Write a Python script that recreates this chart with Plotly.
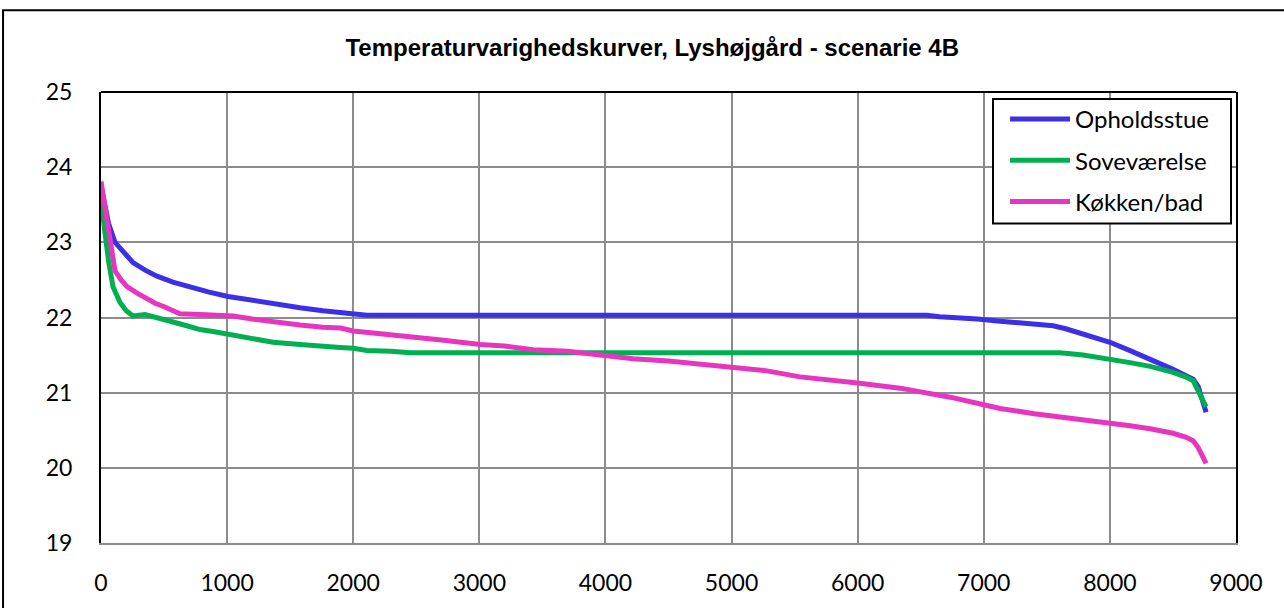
import plotly.graph_objects as go

# Duration curves (hours of the year sorted by temperature)
hours_stue = [0, 30, 60, 111, 180, 254, 350, 444, 570, 706, 850, 1007, 1180, 1364, 1578,
              1760, 1975, 2108, 3000, 4000, 5000, 6000, 6550, 6650, 6812, 6950, 7130, 7260,
              7391, 7550, 7650, 7740, 7870, 8001, 8160, 8319, 8420, 8501, 8600, 8660, 8700, 8763]
temp_stue = [23.75, 23.5, 23.25, 23.0, 22.88, 22.73, 22.63, 22.55, 22.47, 22.40, 22.34, 22.28,
             22.23, 22.18, 22.13, 22.09, 22.06, 22.03, 22.03, 22.03, 22.03, 22.03, 22.03, 22.01,
             22.0, 21.98, 21.95, 21.93, 21.91, 21.89, 21.85, 21.80, 21.74, 21.67, 21.56, 21.45,
             21.38, 21.31, 21.23, 21.18, 21.08, 20.74]

hours_sove = [0, 30, 60, 95, 151, 200, 254, 349, 450, 571, 680, 785, 900, 1007, 1180, 1364,
              1578, 1760, 1895, 2000, 2108, 2300, 2450, 3500, 4500, 5500, 6500, 7605, 7787,
              8001, 8160, 8319, 8420, 8501, 8600, 8660, 8763]
temp_sove = [23.55, 23.1, 22.75, 22.41, 22.20, 22.09, 22.02, 22.04, 22.0, 21.94, 21.89, 21.84,
             21.81, 21.78, 21.72, 21.67, 21.64, 21.61, 21.60, 21.59, 21.56, 21.55, 21.53, 21.53,
             21.53, 21.53, 21.53, 21.53, 21.50, 21.45, 21.40, 21.35, 21.31, 21.27, 21.21, 21.16,
             20.81]

hours_bad = [0, 56, 111, 160, 206, 290, 365, 430, 492, 560, 626, 785, 900, 1047, 1200, 1364,
             1578, 1760, 1900, 2000, 2200, 2371, 2700, 3006, 3200, 3426, 3700, 3957, 4219, 4500,
             4750, 5000, 5281, 5543, 5800, 6000, 6336, 6733, 7000, 7130, 7400, 7660, 8001, 8160,
             8319, 8501, 8600, 8660, 8700, 8763]
temp_bad = [23.81, 23.17, 22.62, 22.50, 22.41, 22.32, 22.24, 22.19, 22.15, 22.09, 22.05, 22.04,
            22.03, 22.02, 21.98, 21.94, 21.90, 21.87, 21.86, 21.82, 21.79, 21.75, 21.70, 21.64,
            21.62, 21.57, 21.55, 21.50, 21.45, 21.42, 21.38, 21.34, 21.29, 21.21, 21.17, 21.13,
            21.06, 20.94, 20.84, 20.79, 20.72, 20.67, 20.60, 20.56, 20.52, 20.46, 20.41, 20.36,
            20.27, 20.06]

series = [
    ("Opholdsstue", hours_stue, temp_stue, "#3B30E8"),
    ("Soveværelse", hours_sove, temp_sove, "#00B050"),
    ("Køkken/bad", hours_bad, temp_bad, "#E835C0"),
]

x_ticks = list(range(0, 9001, 1000))
y_ticks = [19, 20, 21, 22, 23, 24, 25]

fig = go.Figure()
for i, (name, xs, ys, col) in enumerate(series):
    fig.add_trace(go.Scatter(x=xs, y=ys, name=name, mode="lines", legendgroup=str(i),
                             line=dict(color=col, width=5)))

tick_font = dict(family="Lato, Carlito, sans-serif", size=23, color="#000")

fig.update_layout(
    width=1284, height=608,
    margin=dict(l=101, r=48, t=92, b=63),
    paper_bgcolor="white", plot_bgcolor="white",
    title=dict(text="<b>Temperaturvarighedskurver, Lyshøjgård - scenarie 4B</b>",
               font=dict(family="Liberation Sans Narrow, Arial Narrow, Liberation Sans, sans-serif",
                         size=24, color="#000"),
               x=0.508, xref="container", xanchor="center",
               y=1 - 48 / 608, yref="container", yanchor="middle"),
    xaxis=dict(range=[0, 9000], tickvals=x_ticks, showgrid=True, gridcolor="#8C8C8C",
               gridwidth=2, zeroline=False, showline=True, linecolor="#8C8C8C", linewidth=2,
               ticks="", tickfont=tick_font, ticklabelstandoff=18),
    yaxis=dict(range=[19, 25], tickvals=y_ticks, showgrid=True, gridcolor="#8C8C8C",
               gridwidth=2, zeroline=False, showline=True, linecolor="#000", linewidth=2,
               mirror=True, ticks="", tickfont=tick_font, ticklabelstandoff=22),
    legend=dict(x=0.7965, y=0.989, xanchor="left", yanchor="top",
                borderwidth=0, bgcolor="rgba(0,0,0,0)",
                font=dict(family="Lato, Carlito, sans-serif", size=24, color="#000"),
                itemwidth=60, tracegroupgap=7),
    showlegend=True,
    shapes=[
        # top edge of the plot area
        dict(type="line", xref="paper", yref="paper", x0=0, x1=1, y0=1, y1=1,
             line=dict(color="#000", width=2)),
        # legend box
        dict(type="rect", xref="paper", yref="paper", x0=0.7859, x1=0.9956, y0=0.7086, y1=0.9845,
             line=dict(color="#000", width=2), fillcolor="white", layer="above"),
        # outer chart frame
        dict(type="rect", xref="paper", yref="paper", x0=-0.0863, x1=1.06, y0=-0.2, y1=1.181,
             line=dict(color="#000", width=2), layer="below"),
    ],
)

fig.write_html("out.html")
